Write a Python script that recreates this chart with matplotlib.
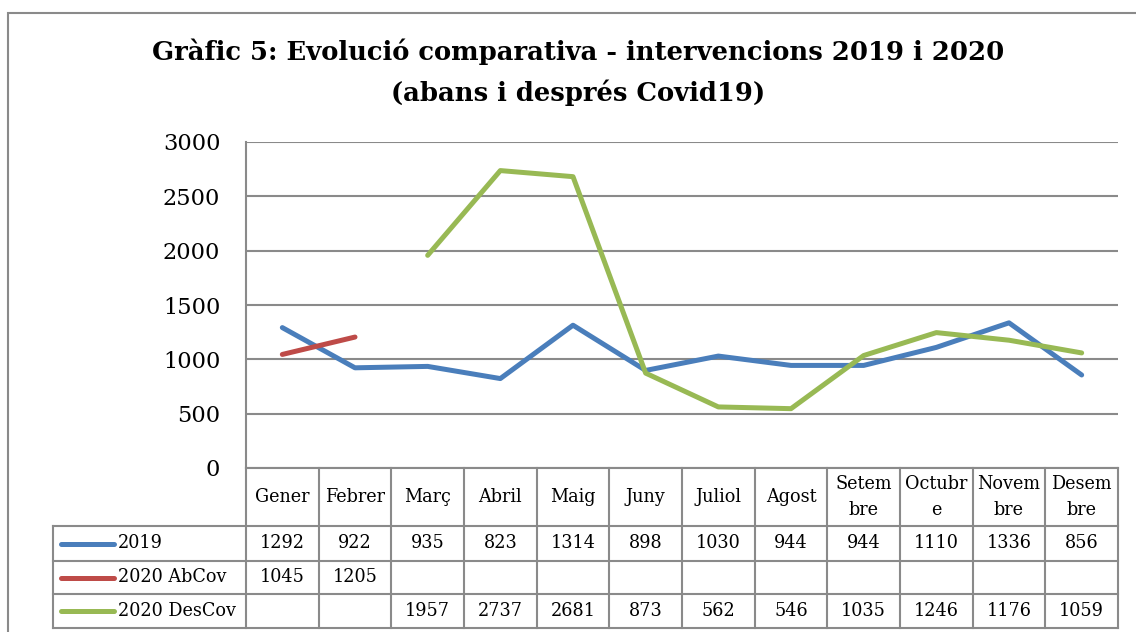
import matplotlib
matplotlib.use("Agg")
import matplotlib.pyplot as plt
from matplotlib.patches import Rectangle
from matplotlib.lines import Line2D
from matplotlib.transforms import blended_transform_factory
import numpy as np

months = ["Gener", "Febrer", "Març", "Abril", "Maig", "Juny", "Juliol", "Agost",
          "Setem\nbre", "Octubr\ne", "Novem\nbre", "Desem\nbre"]
v2019 = [1292, 922, 935, 823, 1314, 898, 1030, 944, 944, 1110, 1336, 856]
v2020_ab = [1045, 1205, None, None, None, None, None, None, None, None, None, None]
v2020_des = [None, None, 1957, 2737, 2681, 873, 562, 546, 1035, 1246, 1176, 1059]
series_names = ["2019", "2020 AbCov", "2020 DesCov"]
series_colors = ["#4A7EBB", "#BE4B48", "#98B954"]
yticks = [0, 500, 1000, 1500, 2000, 2500, 3000]
title_lines = ["Gràfic 5: Evolució comparativa - intervencions 2019 i 2020",
               "(abans i després Covid19)"]

FONT = "DejaVu Serif"
W, H = 1136, 632
fig = plt.figure(figsize=(W / 100, H / 100), dpi=100)
fig.patch.set_facecolor("white")

# plot area in pixels
L, R, T, B = 246, 1118, 142, 468
ax = fig.add_axes([L / W, 1 - B / H, (R - L) / W, (B - T) / H])
n = len(months)
ax.set_xlim(-0.5, n - 0.5)
ax.set_ylim(0, 3000)
gray = "#8A8A8A"

for s in ["top", "right"]:
    ax.spines[s].set_visible(False)
ax.spines["left"].set_color(gray)
ax.spines["bottom"].set_color(gray)
ax.spines["left"].set_linewidth(1.5)
ax.spines["bottom"].set_linewidth(1.5)
ax.set_yticks(yticks)
ax.set_yticklabels([str(t) for t in yticks], fontfamily=FONT, fontsize=16.2)
ax.tick_params(axis="y", length=0, pad=18.5)
ax.set_xticks([])
ax.grid(axis="y", color=gray, linewidth=1.5)
ax.set_axisbelow(True)

x = np.arange(n)
all_series = [v2019, v2020_ab, v2020_des]
for vals, c in zip(all_series, series_colors):
    y = np.array([np.nan if v is None else v for v in vals], dtype=float)
    ax.plot(x, y, color=c, linewidth=3.6, solid_capstyle="round", solid_joinstyle="round", clip_on=False)

# data table
tr = blended_transform_factory(ax.transData, ax.transAxes)
colw = (R - L) / n
def px_x(px):
    return -0.5 + (px - L) / colw
def px_y(py):
    return (B - py) / (B - T)

row_px = [468, 526, 561, 594, 628]
rows = [px_y(p) for p in row_px]
legend_left = px_x(53)
tlw = 1.5
for i in range(n + 1):
    ax.add_line(Line2D([i - 0.5, i - 0.5], [rows[0], rows[-1]], transform=tr, color=gray, lw=tlw, clip_on=False))
for r in rows[1:]:
    ax.add_line(Line2D([legend_left, n - 0.5], [r, r], transform=tr, color=gray, lw=tlw, clip_on=False))
ax.add_line(Line2D([legend_left, legend_left], [rows[1], rows[-1]], transform=tr, color=gray, lw=tlw, clip_on=False))

TFS = 12.7
for i, m in enumerate(months):
    ax.text(i, (rows[0] + rows[1]) / 2, m, transform=tr, ha="center", va="center",
            fontfamily=FONT, fontsize=TFS, linespacing=1.55)

for k, (name, vals, c) in enumerate(zip(series_names, all_series, series_colors)):
    yc = (rows[k + 1] + rows[k + 2]) / 2
    ax.add_line(Line2D([px_x(61), px_x(114)], [yc, yc], transform=tr, color=c, lw=3.6,
                       solid_capstyle="round", clip_on=False))
    ax.text(px_x(118), yc, name, transform=tr, ha="left", va="center", fontfamily=FONT, fontsize=TFS)
    for i, v in enumerate(vals):
        if v is not None:
            ax.text(i, yc, str(v), transform=tr, ha="center", va="center", fontfamily=FONT, fontsize=TFS)

# title (two lines)
for line, py in zip(title_lines, [52, 93]):
    fig.text(0.509, 1 - py / H, line, ha="center", va="center", fontfamily=FONT,
             fontweight="bold", fontsize=18.6)

# outer chart frame (cropped on right/bottom)
fig.patches.append(Rectangle((8 / W, -0.1), 1.2, 1 - 13 / H + 0.1, transform=fig.transFigure,
                             fill=False, edgecolor=gray, linewidth=1.5))

fig.savefig("out.png", dpi=100)
